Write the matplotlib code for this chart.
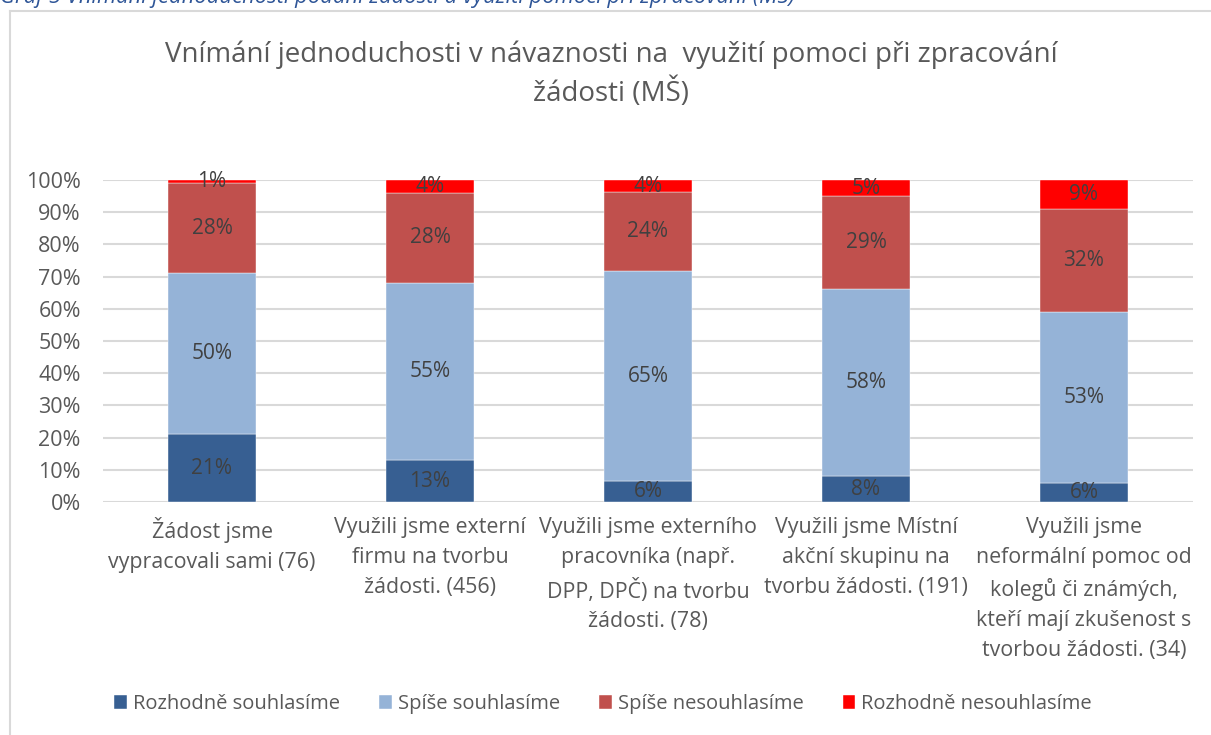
import matplotlib
matplotlib.use("Agg")
import matplotlib.pyplot as plt
import numpy as np

categories = [
    "Žádost jsme\nvypracovali sami (76)",
    "Využili jsme externí\nfirmu na tvorbu\nžádosti. (456)",
    "Využili jsme externího\npracovníka (např.\nDPP, DPČ) na tvorbu\nžádosti. (78)",
    "Využili jsme Místní\nakční skupinu na\ntvorbu žádosti. (191)",
    "Využili jsme\nneformální pomoc od\nkolegů či známých,\nkteří mají zkušenost s\ntvorbou žádosti. (34)",
]
series_names = ["Rozhodně souhlasíme", "Spíše souhlasíme", "Spíše nesouhlasíme", "Rozhodně nesouhlasíme"]
rozhodne_souhlasime = [21, 13, 6.4, 8, 6]
spise_souhlasime = [50, 55, 65.4, 58, 53]
spise_nesouhlasime = [28, 28, 24.4, 29, 32]
rozhodne_nesouhlasime = [1, 4, 3.8, 5, 9]
yticks = [0, 10, 20, 30, 40, 50, 60, 70, 80, 90, 100]

colors = ["#375F92", "#95B3D7", "#C0504D", "#FF0000"]
plt.rcParams['font.family'] = ['Open Sans', 'DejaVu Sans']

fig = plt.figure(figsize=(12.11, 7.35), dpi=100)
W, H = 1211, 735

# outer frame
fig.add_artist(plt.Line2D([10 / W, 10 / W], [0, 1 - 11 / H], color="#D9D9D9", lw=1.5))
fig.add_artist(plt.Line2D([10 / W, 1], [1 - 11 / H, 1 - 11 / H], color="#D9D9D9", lw=1.5))

# caption (cut off at top, as in the reference)
fig.text(0.0, 1 - 3 / H, "Graf 5 Vnímání jednoduchosti podání žádosti a využití pomoci při zpracování (MŠ)",
         color="#2E5597", fontsize=15.8, style="italic", va="baseline", ha="left")

ax = fig.add_axes([103 / W, 1 - 502 / H, 1090 / W, 322 / H])
data = [rozhodne_souhlasime, spise_souhlasime, spise_nesouhlasime, rozhodne_nesouhlasime]
x = np.arange(len(categories))
bottom = np.zeros(len(categories))
for vals, name, c in zip(data, series_names, colors):
    vals = np.array(vals, dtype=float)
    ax.bar(x, vals, 0.40, bottom=bottom, color=c, label=name, zorder=3,
           edgecolor="white", linewidth=0.3)
    for xi, v, b in zip(x, vals, bottom):
        ax.text(xi, b + v / 2, f"{int(round(v))}%", ha="center", va="center",
                fontsize=15, color="#404040", zorder=4)
    bottom += vals

ax.set_xlim(-0.5, len(categories) - 0.5)
ax.set_ylim(0, 100)
ax.set_yticks(yticks)
ax.set_yticklabels([f"{t}%" for t in yticks], fontsize=15.5, color="#595959")
ax.yaxis.grid(True, color="#D9D9D9", lw=1.5, zorder=0)
ax.set_axisbelow(True)
for s in ax.spines.values():
    s.set_visible(False)
ax.tick_params(axis="y", length=0, pad=16)
ax.tick_params(axis="x", length=0, pad=11)
ax.set_xticks(x)
ax.set_xticklabels(categories, fontsize=15.4, color="#595959", linespacing=1.55, va="top")

fig.text(611 / W, 1 - 74 / H,
         "Vnímání jednoduchosti v návaznosti na  využití pomoci při zpracování\nžádosti (MŠ)",
         ha="center", va="center", fontsize=20, color="#595959", linespacing=1.38)

leg = fig.legend(loc="center", bbox_to_anchor=(603 / W, 1 - 704 / H), ncol=4, frameon=False,
                 fontsize=14.5, handlelength=0.63, handleheight=0.63, handletextpad=0.3,
                 columnspacing=1.95, borderpad=0, borderaxespad=0)
for t in leg.get_texts():
    t.set_color("#595959")

fig.savefig("out.png", dpi=100)
